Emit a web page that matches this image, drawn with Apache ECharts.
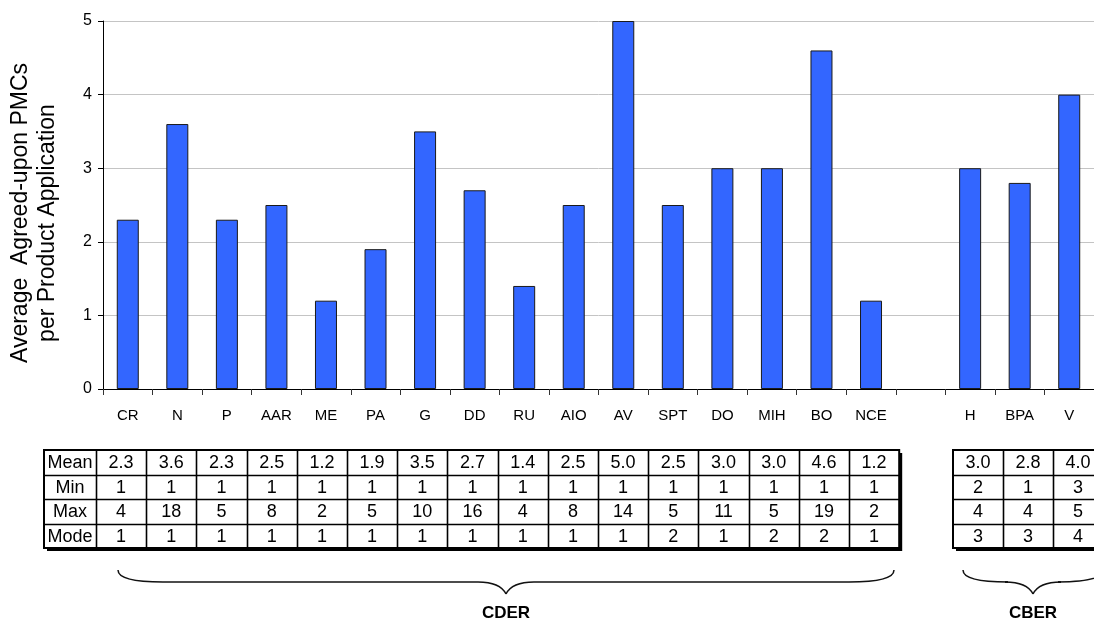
<!DOCTYPE html>
<html>
<head>
<meta charset="utf-8">
<style>
  html, body { margin: 0; padding: 0; background: #ffffff; }
  #chart { width: 1094px; height: 625px; }
</style>
<script src="https://cdn.jsdelivr.net/npm/echarts@6/dist/echarts.min.js"></script>
</head>
<body>
<div id="chart"></div>
<script>
// Review divisions: CDER divisions, an empty spacer slot, then CBER offices
const categories = ['CR', 'N', 'P', 'AAR', 'ME', 'PA', 'G', 'DD', 'RU', 'AIO', 'AV', 'SPT', 'DO', 'MIH', 'BO', 'NCE', '', 'H', 'BPA', 'V'];
const meanValues = [2.3, 3.6, 2.3, 2.5, 1.2, 1.9, 3.5, 2.7, 1.4, 2.5, 5.0, 2.5, 3.0, 3.0, 4.6, 1.2, null, 3.0, 2.8, 4.0];
const minValues  = [1, 1, 1, 1, 1, 1, 1, 1, 1, 1, 1, 1, 1, 1, 1, 1, null, 2, 1, 3];
const maxValues  = [4, 18, 5, 8, 2, 5, 10, 16, 4, 8, 14, 5, 11, 5, 19, 2, null, 4, 4, 5];
const modeValues = [1, 1, 1, 1, 1, 1, 1, 1, 1, 1, 1, 2, 1, 2, 2, 1, null, 3, 3, 4];
const rowLabels  = ['Mean', 'Min', 'Max', 'Mode'];
const yTicks     = [0, 1, 2, 3, 4, 5];
const yTitleLines = ['Average  Agreed-upon PMCs', 'per Product Application'];
const centerNames = ['CDER', 'CBER'];

const FONT = '"Liberation Sans", Arial, Helvetica, sans-serif';

// Summary table rows, formatted for display
const tableRows = [
  meanValues.map(v => v == null ? '' : v.toFixed(1)),
  minValues.map(v => v == null ? '' : String(v)),
  maxValues.map(v => v == null ? '' : String(v)),
  modeValues.map(v => v == null ? '' : String(v))
];

// Table blocks: first with a row-label column, second without
const blocks = [
  { from: 0,  to: 15, left: 44,  labelWidth: 52, colWidth: 50.2, showLabels: true },
  { from: 17, to: 19, left: 953, labelWidth: 0,  colWidth: 50,   showLabels: false }
];
const tableTop = 450;
const rowHeight = 24.5;

function centered(text, x, y, font, extra) {
  return Object.assign({
    type: 'text', z: 4, x: x, y: y,
    style: { text: text, font: font, fill: '#000',
      align: 'center', verticalAlign: 'middle', textAlign: 'center', textVerticalAlign: 'middle' }
  }, extra || {});
}

function buildTable(block) {
  const els = [];
  const nCols = block.to - block.from + 1;
  const width = block.labelWidth + nCols * block.colWidth;
  const height = rowHeight * rowLabels.length;
  const x0 = block.left, y0 = tableTop;
  // drop shadow giving the heavy right/bottom edge
  els.push({ type: 'rect', z: 1, shape: { x: x0 + 3, y: y0 + 3, width: width, height: height },
    style: { fill: '#000' } });
  els.push({ type: 'rect', z: 2, shape: { x: x0, y: y0, width: width, height: height },
    style: { fill: '#fff', stroke: '#000', lineWidth: 2 } });
  // row separators
  for (let r = 1; r < rowLabels.length; r++) {
    const y = Math.round(y0 + r * rowHeight) + 0.5;
    els.push({ type: 'line', z: 3, shape: { x1: x0, y1: y, x2: x0 + width, y2: y },
      style: { stroke: '#000', lineWidth: 1.6 } });
  }
  // column separators
  const firstX = x0 + block.labelWidth;
  for (let c = block.showLabels ? 0 : 1; c < nCols; c++) {
    const x = Math.round(firstX + c * block.colWidth) + 0.5;
    els.push({ type: 'line', z: 3, shape: { x1: x, y1: y0, x2: x, y2: y0 + height },
      style: { stroke: '#000', lineWidth: 1.6 } });
  }
  // cell texts
  for (let r = 0; r < rowLabels.length; r++) {
    const cy = y0 + (r + 0.5) * rowHeight + 1;
    if (block.showLabels) {
      els.push(centered(rowLabels[r], x0 + block.labelWidth / 2, cy, '18px ' + FONT));
    }
    for (let c = 0; c < nCols; c++) {
      els.push(centered(tableRows[r][block.from + c], firstX + (c + 0.5) * block.colWidth, cy, '18px ' + FONT));
    }
  }
  return els;
}

// Curly brace under a table block, built from curves and straight runs
function buildBrace(x1, x2, xm, yTop, yMid, yTip) {
  const st = { stroke: '#111', lineWidth: 1.5, fill: 'none' };
  return [
    { type: 'bezierCurve', z: 2, shape: { x1: x1, y1: yTop, x2: x1 + 45, y2: yMid, cpx1: x1, cpy1: yMid }, style: st },
    { type: 'line', z: 2, shape: { x1: x1 + 45, y1: yMid, x2: xm - 28, y2: yMid }, style: st },
    { type: 'bezierCurve', z: 2, shape: { x1: xm - 28, y1: yMid, x2: xm, y2: yTip, cpx1: xm - 6, cpy1: yMid }, style: st },
    { type: 'bezierCurve', z: 2, shape: { x1: xm, y1: yTip, x2: xm + 28, y2: yMid, cpx1: xm + 6, cpy1: yMid }, style: st },
    { type: 'line', z: 2, shape: { x1: xm + 28, y1: yMid, x2: x2 - 45, y2: yMid }, style: st },
    { type: 'bezierCurve', z: 2, shape: { x1: x2 - 45, y1: yMid, x2: x2, y2: yTop, cpx1: x2, cpy1: yMid }, style: st }
  ];
}

const braces = [
  { x1: 118, x2: 894, xm: 506 },
  { x1: 963, x2: 1103, xm: 1033 }
];

const graphics = [];
blocks.forEach(b => buildTable(b).forEach(e => graphics.push(e)));
braces.forEach((b, i) => {
  buildBrace(b.x1, b.x2, b.xm, 570, 582, 594).forEach(e => graphics.push(e));
  graphics.push(centered(centerNames[i], b.xm, 613, 'bold 17px ' + FONT));
});
// Y axis title, two rotated lines
graphics.push(centered(yTitleLines[0], 21, 213, '23px ' + FONT, { rotation: Math.PI / 2 }));
graphics.push(centered(yTitleLines[1], 48, 223, '23px ' + FONT, { rotation: Math.PI / 2 }));

const chart = echarts.init(document.getElementById('chart'), null, { renderer: 'canvas' });
chart.setOption({
  animation: false,
  backgroundColor: '#ffffff',
  grid: { left: 103, top: 21, width: 1000, height: 368, containLabel: false },
  xAxis: {
    type: 'category',
    data: categories,
    boundaryGap: true,
    axisLine: { lineStyle: { color: '#000', width: 1 } },
    axisTick: { show: true, length: 6, lineStyle: { color: '#333' } },
    axisLabel: { color: '#000', fontSize: 15, fontFamily: FONT, margin: 19, interval: 0 }
  },
  yAxis: {
    type: 'value',
    min: yTicks[0],
    max: yTicks[yTicks.length - 1],
    interval: 1,
    axisLine: { show: true, lineStyle: { color: '#000', width: 1 } },
    axisTick: { show: true, length: 5, lineStyle: { color: '#000' } },
    axisLabel: { color: '#000', fontSize: 16, fontFamily: FONT, margin: 11 },
    splitLine: { show: true, lineStyle: { color: '#c4c4c4', width: 1 } }
  },
  series: [{
    type: 'bar',
    data: meanValues,
    barWidth: 22,
    itemStyle: { color: '#3366FF', borderColor: '#1a1a1a', borderWidth: 1 },
    z: 3
  }],
  graphic: graphics
});
</script>
</body>
</html>
